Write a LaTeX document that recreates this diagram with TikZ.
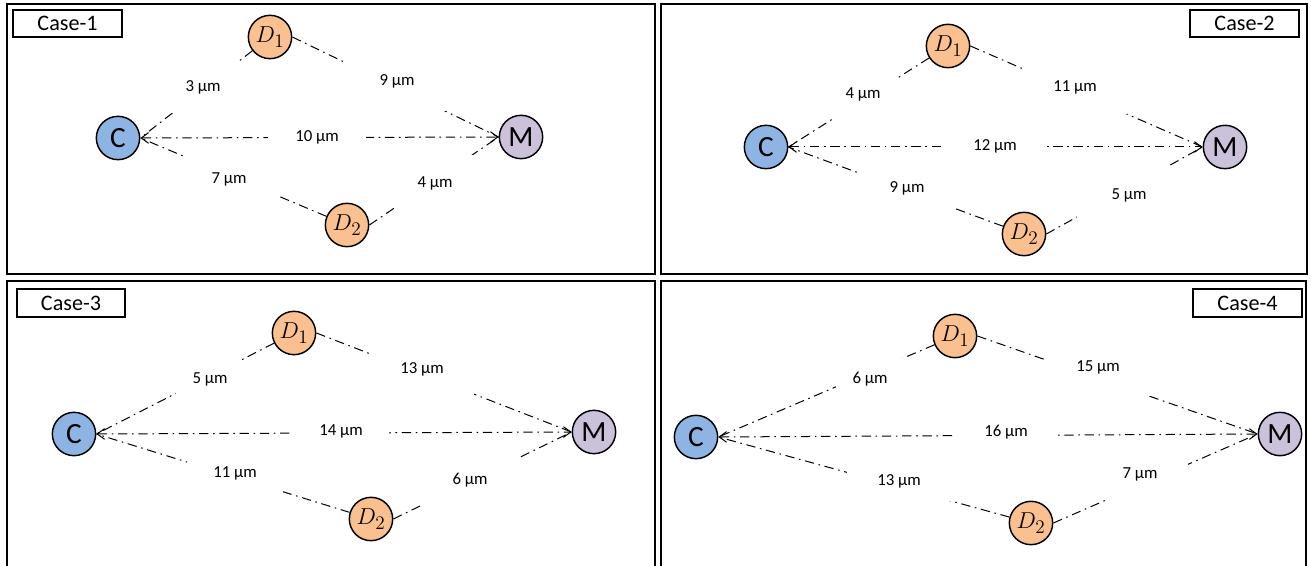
\documentclass[tikz,border=0pt]{standalone}
\usepackage[no-math]{fontspec}
\setmainfont{Carlito}
\usetikzlibrary{arrows.meta}

\definecolor{cfill}{RGB}{142,180,227}
\definecolor{dfill}{RGB}{250,192,144}
\definecolor{mfill}{RGB}{204,193,218}

\tikzset{
  panel/.style={draw=black, line width=1.5pt},
  tagbox/.style={draw=black, line width=1.4pt, fill=white, inner sep=0pt,
    minimum width=81.5pt, minimum height=20.5pt, font=\fontsize{16.6}{18}\selectfont},
  dot/.style={circle, draw=black, line width=1.1pt, minimum size=32.5pt, inner sep=0pt},
  cnode/.style={dot, fill=cfill, font=\fontsize{22}{24}\selectfont},
  dnode/.style={dot, fill=dfill, font=\fontsize{19}{21}\selectfont},
  mnode/.style={dot, fill=mfill, font=\fontsize{22}{24}\selectfont},
  link/.style={line width=0.75pt, dash pattern=on 7pt off 3.5pt on 1.2pt off 3.5pt},
  twoway/.style={link, arrows={Straight Barb[length=5.5pt,width=8pt]-Straight Barb[length=5.5pt,width=8pt]}},
  dist/.style 2 args={fill=white, inner sep=0pt, minimum width=#1*0.75pt,
    minimum height=#2*0.75pt, font=\fontsize{12.6}{15}\selectfont},
}

\begin{document}
\begin{tikzpicture}[x=0.75pt, y=-0.75pt]
\useasboundingbox (0,0) rectangle (1311,566);
\clip (0,0) rectangle (1311,566);

% ---------------- Case 1 ----------------
\draw[panel] (7,4) rectangle (655,274);
\node[tagbox] (t1) at (67.5,23.5) {Case-1};
\node[cnode] (c1C)  at (118,138) {C};
\node[dnode] (c1D1) at (270,37)  {$D_1$};
\node[mnode] (c1M)  at (521,137) {M};
\node[dnode] (c1D2) at (347,225) {$D_2$};
\draw[link] (c1D1) -- (c1C.east);
\draw[link] (c1D2) -- (c1C.east);
\draw[twoway] (c1C.east) -- (c1M.west);
\draw[link] (c1D1.east) -- (c1M.west);
\draw[link] (c1D2.east) -- (c1M.west);
\node[dist={68}{52}]  (c1a) at (203,87)  {3 µm};
\node[dist={98}{20}]  (c1b) at (317,137) {10 µm};
\node[dist={96}{46}]  (c1c) at (229,179) {7 µm};
\node[dist={100}{60}] (c1d) at (397,81)  {9 µm};
\node[dist={80}{56}]  (c1e) at (435,183) {4 µm};

% ---------------- Case 2 ----------------
\draw[panel] (661,4) rectangle (1307,274);
\node[tagbox] (t2) at (1244.5,23.5) {Case-2};
\node[cnode] (c2C)  at (766,147)  {C};
\node[dnode] (c2D1) at (948,46)   {$D_1$};
\node[mnode] (c2M)  at (1225,147) {M};
\node[dnode] (c2D2) at (1024,234) {$D_2$};
\draw[link] (c2D1) -- (c2C.east);
\draw[link] (c2D2) -- (c2C.east);
\draw[twoway] (c2C.east) -- (c2M.west);
\draw[link] (c2D1.east) -- (c2M.west);
\draw[link] (c2D2.east) -- (c2M.west);
\node[dist={66}{48}]  (c2a) at (863,94)   {4 µm};
\node[dist={104}{20}] (c2b) at (995,146)  {12 µm};
\node[dist={96}{42}]  (c2c) at (907,188)  {9 µm};
\node[dist={104}{54}] (c2d) at (1075,87)  {11 µm};
\node[dist={104}{56}] (c2e) at (1129,195) {5 µm};

% ---------------- Case 3 ----------------
\draw[panel] (7,281) rectangle (655,600);
\node[tagbox] (t3) at (71,303) {Case-3};
\node[cnode] (c3C)  at (74,434)  {C};
\node[dnode] (c3D1) at (294,333) {$D_1$};
\node[mnode] (c3M)  at (594,432) {M};
\node[dnode] (c3D2) at (371,519) {$D_2$};
\draw[link] (c3D1) -- (c3C.east);
\draw[link] (c3D2) -- (c3C.east);
\draw[twoway] (c3C.east) -- (c3M.west);
\draw[link] (c3D1.east) -- (c3M.west);
\draw[link] (c3D2.east) -- (c3M.west);
\node[dist={68}{38}]  (c3a) at (210,379) {5 µm};
\node[dist={96}{20}]  (c3b) at (341,431) {14 µm};
\node[dist={96}{40}]  (c3c) at (235,473) {11 µm};
\node[dist={104}{52}] (c3d) at (422,369) {13 µm};
\node[dist={94}{52}]  (c3e) at (470,480) {6 µm};

% ---------------- Case 4 ----------------
\draw[panel] (661,281) rectangle (1306,600);
\node[tagbox] (t4) at (1247.5,303) {Case-4};
\node[cnode] (c4C)  at (696,437)  {C};
\node[dnode] (c4D1) at (955,336)  {$D_1$};
\node[mnode] (c4M)  at (1280,434) {M};
\node[dnode] (c4D2) at (1031,523) {$D_2$};
\draw[link] (c4D1) -- (c4C.east);
\draw[link] (c4D2) -- (c4C.east);
\draw[twoway] (c4C.east) -- (c4M.west);
\draw[link] (c4D1.east) -- (c4M.west);
\draw[link] (c4D2.east) -- (c4M.west);
\node[dist={68}{42}]  (c4a) at (870,379)  {6 µm};
\node[dist={102}{20}] (c4b) at (1006,432) {16 µm};
\node[dist={104}{40}] (c4c) at (899,481)  {13 µm};
\node[dist={104}{58}] (c4d) at (1098,367) {15 µm};
\node[dist={96}{50}]  (c4e) at (1140,474) {7 µm};
\end{tikzpicture}
\end{document}
